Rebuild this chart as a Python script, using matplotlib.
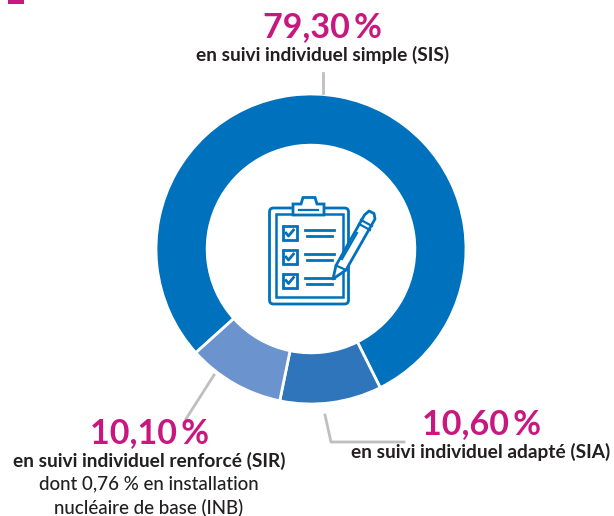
import matplotlib
matplotlib.use('Agg')
import matplotlib.pyplot as plt
from matplotlib.patches import FancyBboxPatch, Rectangle, Polygon

plt.rcParams['font.family'] = ['Lato', 'DejaVu Sans']

labels = ['SIS', 'SIA', 'SIR']
shares = [79.30, 10.60, 10.10]
colours = ['#0071BC', '#2F75BC', '#6B93CE']
pct_text = ['79,30\u2009%', '10,60\u2009%', '10,10\u2009%']
pink = '#C8177E'
blue = '#0071BC'
grey = '#BFBFBF'
dark = '#231F20'

W, H = 614, 516
fig = plt.figure(figsize=(W / 100, H / 100), dpi=100)

# donut, placed in pixels
cx, cy, r = 311, 249, 155
ax = fig.add_axes([(cx - r - 2) / W, 1 - (cy + r + 2) / H, (2 * r + 4) / W, (2 * r + 4) / H])
ax.pie(shares, colors=colours, startangle=222, counterclock=False, radius=1,
       wedgeprops=dict(width=0.33, edgecolor='white', linewidth=2))
ax.set_xlim(-(r + 2) / r, (r + 2) / r)
ax.set_ylim(-(r + 2) / r, (r + 2) / r)

# overlay in pixel coordinates for text, leader lines and the icon
ov = fig.add_axes([0, 0, 1, 1])
ov.set_xlim(0, W)
ov.set_ylim(H, 0)
ov.axis('off')
ov.patch.set_alpha(0)

ov.add_patch(Rectangle((8, 0), 16, 4, color=pink, lw=0))

# leader lines
ov.plot([322.5, 322.5], [73, 93], color=grey, lw=2)
ov.plot([325, 331, 404], [415, 442, 442], color=grey, lw=2)
ov.plot([214, 186], [375, 419], color=grey, lw=2)

# labels
big = dict(color=pink, fontsize=24.5, fontweight='bold', ha='center', va='center')
sub = dict(color=dark, fontsize=13.8, fontweight='bold', ha='center', va='center')
reg = dict(color=dark, fontsize=13.5, fontweight='medium', ha='center', va='center')
ov.text(322, 27.5, pct_text[0], **big)
ov.text(323, 55, 'en suivi individuel simple (SIS)', **sub)
ov.text(482, 424.5, pct_text[1], **big)
ov.text(481, 452, 'en suivi individuel adapté (SIA)', **sub)
ov.text(150, 433.5, pct_text[2], **big)
ov.text(149, 461, 'en suivi individuel renforcé (SIR)', **sub)
ov.text(149, 484, 'dont 0,76 % en installation', **reg)
ov.text(149, 508, 'nucléaire de base (INB)', **reg)

# clipboard icon
ov.add_patch(FancyBboxPatch((269.5, 208), 79, 96, boxstyle='round,pad=0,rounding_size=4',
                            fc='white', ec=blue, lw=2))
ov.add_patch(Rectangle((275.5, 213.5), 67, 83, fc='white', ec=blue, lw=1.8))
ov.add_patch(Polygon([(293, 215), (293, 204), (301, 204), (303, 197.5), (315, 197.5),
                      (317, 204), (324, 204), (324, 215)], closed=True, fc='white', ec=blue, lw=2))
ov.plot([299, 318], [209.5, 209.5], color=blue, lw=1.6)

for y0 in [226, 250, 273.5]:
    ov.add_patch(Rectangle((283, y0), 13.5, 14, fc='white', ec=blue, lw=2))
    ov.plot([286, 288.5, 293.5], [y0 + 7, y0 + 10, y0 + 4], color=blue, lw=2)
    ov.plot([304.5, 334], [y0 + 4, y0 + 4], color=blue, lw=2)
    ov.plot([306.5, 332], [y0 + 10, y0 + 10], color=blue, lw=2)

# pencil
ov.add_patch(Polygon([(333, 279), (336, 265.5), (364.5, 215), (369, 211), (374, 213.5), (375, 219),
                      (346, 270)], closed=True, fc='white', ec=blue, lw=2, joinstyle='round'))
ov.plot([336, 346], [265.5, 270], color=blue, lw=1.6)
ov.plot([361, 372], [220, 226], color=blue, lw=1.6)
ov.plot([359, 370], [224, 230], color=blue, lw=1.6)
ov.plot([342, 357], [259, 233], color=blue, lw=1.6)

fig.savefig('out.png', dpi=100, facecolor='white')
